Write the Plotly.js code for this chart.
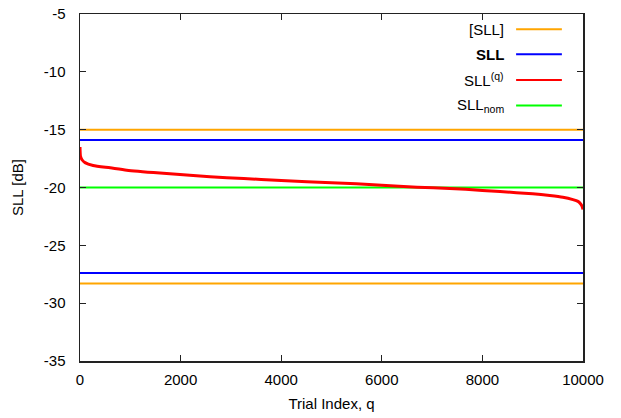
<!DOCTYPE html>
<html>
<head>
<meta charset="utf-8">
<script src="https://cdn.plot.ly/plotly-3.0.1.min.js"></script>
<style>html,body{margin:0;padding:0;background:#fff;}#chart{width:621px;height:418px;}</style>
</head>
<body>
<div id="chart"></div>
<script>
// Data
const qRange = [0, 10000];
const sllBoundUpper = -15.0;   // [SLL] upper
const sllBoundLower = -28.3;   // [SLL] lower
const sllUpper = -15.9;        // SLL upper
const sllLower = -27.4;        // SLL lower
const sllNom = -20.0;          // SLL_nom
const trialQ =   [0,     10,    40,    100,   260,   600,   930,   1590,  2250,  2920,  3600,  4000,  5000,  6000,  6700,  7350,  8000,  8350,  9000,  9340,  9600,  9800,  9900,  9950,  9980,  10000];
const trialSLL = [-16.5, -17.3, -17.6, -17.85, -18.1, -18.3, -18.5, -18.75, -18.97, -19.15, -19.3, -19.4, -19.58, -19.8, -19.97, -20.08, -20.25, -20.35, -20.55, -20.7, -20.85, -21.05, -21.2, -21.4, -21.6, -21.9];
const xTicks = [0, 2000, 4000, 6000, 8000, 10000];
const xTickLabels = ['0', '2000', '4000', '6000', '8000', '10000'];
const yTicks = [-35, -30, -25, -20, -15, -10, -5];
const yTickLabels = ['-35', '-30', '-25', '-20', '-15', '-10', '-5'];
const legendLabels = ['[SLL]', '<b>SLL</b>', 'SLL<sup>(q)</sup>', 'SLL<sub>nom</sub>'];
const colors = {bound: '#ffa500', sll: '#0000ff', trial: '#ff0000', nom: '#00ff00'};

const lw = 2;
const traces = [
  {x: qRange, y: [sllBoundUpper, sllBoundUpper], mode: 'lines', line: {color: colors.bound, width: lw}},
  {x: qRange, y: [sllBoundLower, sllBoundLower], mode: 'lines', line: {color: colors.bound, width: lw}},
  {x: qRange, y: [sllUpper, sllUpper], mode: 'lines', line: {color: colors.sll, width: lw}},
  {x: qRange, y: [sllLower, sllLower], mode: 'lines', line: {color: colors.sll, width: lw}},
  {x: qRange, y: [sllNom, sllNom], mode: 'lines', line: {color: colors.nom, width: lw}},
  {x: trialQ, y: trialSLL, mode: 'lines', line: {color: colors.trial, width: 3, shape: 'spline', smoothing: 0.6}}
];

const FONT = 'Liberation Sans, Arial, sans-serif';
const legendColors = [colors.bound, colors.sll, colors.trial, colors.nom];
const rowY = [0.956, 0.884, 0.810, 0.736];
const annotations = legendLabels.map((t, i) => ({
  xref: 'paper', yref: 'paper', x: 0.847, y: rowY[i], xanchor: 'right', yanchor: 'middle',
  text: t, showarrow: false, font: {family: FONT, size: 15, color: '#000'}
}));
const shapes = legendColors.map((c, i) => ({
  type: 'line', xref: 'paper', yref: 'paper', x0: 0.867, x1: 0.958, y0: rowY[i], y1: rowY[i],
  line: {color: c, width: 2}
}));

const axisCommon = {
  showgrid: false, zeroline: false, showline: true, mirror: 'ticks',
  linecolor: '#222', linewidth: 1.5, ticks: 'inside', ticklen: 6, tickwidth: 1.2, tickcolor: '#222',
  tickfont: {family: FONT, size: 15, color: '#000'}
};

const layout = {
  width: 621, height: 418,
  margin: {l: 80, r: 38, t: 14, b: 57},
  paper_bgcolor: '#fff', plot_bgcolor: '#fff',
  showlegend: false,
  font: {family: FONT, size: 15, color: '#000'},
  xaxis: Object.assign({}, axisCommon, {
    range: [0, 10000], tickmode: 'array', tickvals: xTicks, ticktext: xTickLabels, ticklabelstandoff: 4,
    title: {text: 'Trial Index, q', font: {size: 15}, standoff: 12}
  }),
  yaxis: Object.assign({}, axisCommon, {
    range: [-35, -5], tickmode: 'array', tickvals: yTicks, ticktext: yTickLabels, ticklabelstandoff: 10,
    title: {text: 'SLL [dB]', font: {size: 15}, standoff: 16}
  }),
  annotations: annotations,
  shapes: shapes
};

Plotly.newPlot('chart', traces, layout, {displayModeBar: false, staticPlot: true});
</script>
</body>
</html>
